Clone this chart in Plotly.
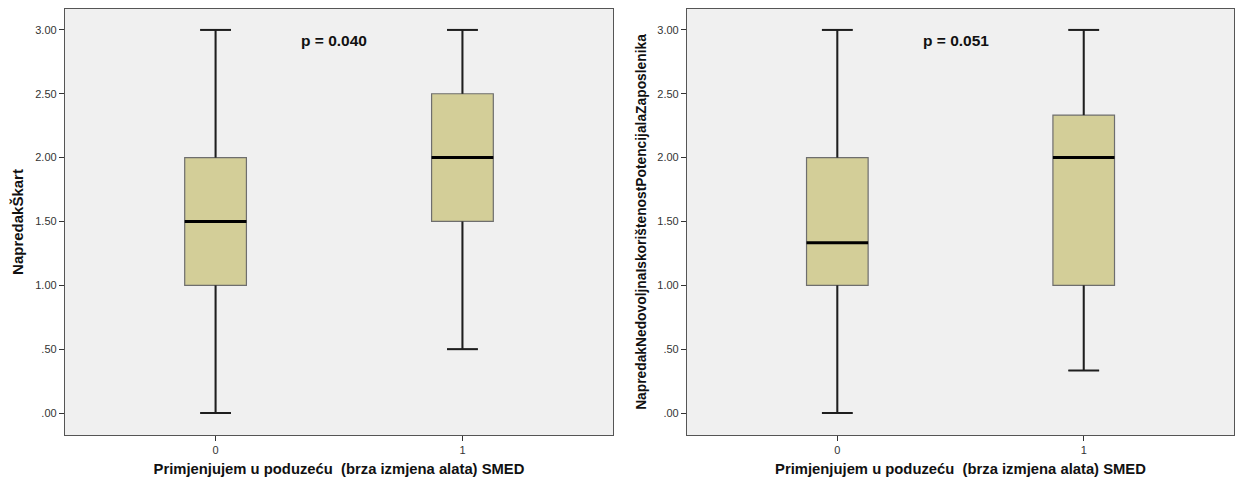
import plotly.graph_objects as go

groups = [0, 1]
tick_text = ["0", "1"]
y_ticks = [0.0, 0.5, 1.0, 1.5, 2.0, 2.5, 3.0]
y_tick_text = [".00", ".50", "1.00", "1.50", "2.00", "2.50", "3.00"]

# Left panel: NapredakŠkart
left_min = [0.0, 0.5]
left_q1 = [1.0, 1.5]
left_med = [1.5, 2.0]
left_q3 = [2.0, 2.5]
left_max = [3.0, 3.0]

# Right panel: NapredakNedovoljnaIskorištenostPotencijalaZaposlenika
right_min = [0.0, 0.333]
right_q1 = [1.0, 1.0]
right_med = [1.333, 2.0]
right_q3 = [2.0, 2.333]
right_max = [3.0, 3.0]

p_values = ["p = 0.040", "p = 0.051"]
y_titles = ["NapredakŠkart", "NapredakNedovoljnaIskorištenostPotencijalaZaposlenika"]
x_title = "Primjenjujem u poduzeću  (brza izmjena alata) SMED"

BOX_W = 0.25
CAP_W = 0.125
FILL = "#d3ce98"

fig = go.Figure()

panels = [
    (left_min, left_q1, left_med, left_q3, left_max, "x", "y"),
    (right_min, right_q1, right_med, right_q3, right_max, "x2", "y2"),
]

for mn, q1, md, q3, mx, xa, ya in panels:
    fig.add_trace(go.Box(
        x=groups, q1=q1, median=md, q3=q3, lowerfence=mn, upperfence=mx,
        width=BOX_W, whiskerwidth=0.5, fillcolor=FILL,
        line=dict(color="#6e6e6e", width=1.2), boxpoints=False,
        hoverinfo="skip", showlegend=False, xaxis=xa, yaxis=ya,
    ))
    for g, a, b, c, d, m in zip(groups, mn, q1, q3, mx, md):
        # whiskers and caps
        fig.add_trace(go.Scatter(
            x=[g, g, None, g, g, None,
               g - CAP_W / 2, g + CAP_W / 2, None, g - CAP_W / 2, g + CAP_W / 2],
            y=[a, b, None, c, d, None, a, a, None, d, d],
            mode="lines", line=dict(color="#1e1e1e", width=2),
            hoverinfo="skip", showlegend=False, xaxis=xa, yaxis=ya,
        ))
        # median
        fig.add_trace(go.Scatter(
            x=[g - BOX_W / 2, g + BOX_W / 2], y=[m, m], mode="lines",
            line=dict(color="#000000", width=3), hoverinfo="skip",
            showlegend=False, xaxis=xa, yaxis=ya,
        ))

axis_common = dict(
    showgrid=False, zeroline=False, showline=True, linecolor="#555555",
    linewidth=1.2, mirror=True, ticks="outside", ticklen=5, tickwidth=1,
    tickcolor="#333333", tickfont=dict(family="Liberation Sans, Arial", size=11, color="#333333"),
)

def tfont(size):
    return dict(family="Liberation Sans, Arial", size=size, color="#111111")

fig.update_layout(
    width=1235, height=483,
    margin=dict(l=0, r=0, t=0, b=0, autoexpand=False),
    paper_bgcolor="white", plot_bgcolor="#f0f0f0",
    boxmode="overlay",
    xaxis=dict(domain=[0.0526, 0.4964], range=[-0.61, 1.61], tickvals=groups,
               ticktext=tick_text, title=dict(text="<b>" + x_title + "</b>", font=tfont(14.8), standoff=8),
               **axis_common),
    xaxis2=dict(domain=[0.5563, 0.9992], range=[-0.61, 1.61], tickvals=groups,
                ticktext=tick_text, anchor="y2",
                title=dict(text="<b>" + x_title + "</b>", font=tfont(14.8), standoff=8),
                **axis_common),
    yaxis=dict(domain=[0.0994, 0.9814], range=[-0.172, 3.164], tickvals=y_ticks,
               ticktext=y_tick_text, title=dict(text="<b>" + y_titles[0] + "</b>", font=tfont(15), standoff=7),
               **axis_common),
    yaxis2=dict(domain=[0.0994, 0.9814], range=[-0.172, 3.164], tickvals=y_ticks,
                ticktext=y_tick_text, anchor="x2",
                title=dict(text="<b>" + y_titles[1] + "</b>", font=tfont(13.8), standoff=7),
                **axis_common),
)

for xr, txt in zip(["x", "x2"], p_values):
    fig.add_annotation(x=0.48, y=2.915, xref=xr, yref="y" if xr == "x" else "y2",
                       text="<b>" + txt + "</b>", showarrow=False,
                       font=tfont(15.5))

fig.write_html("out.html", config={"displayModeBar": False},
               post_script="document.body.style.margin='0';document.body.style.overflow='hidden';")
